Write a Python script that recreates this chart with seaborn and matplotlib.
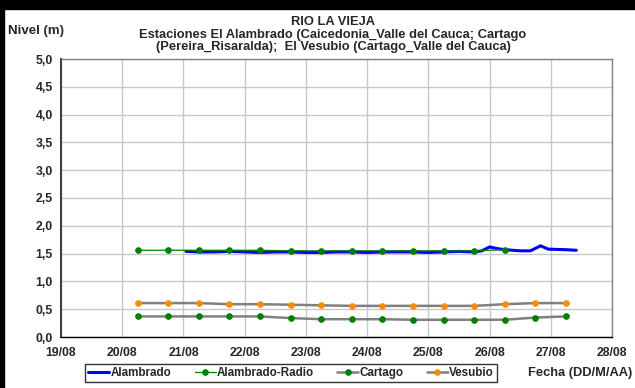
import pandas as pd
import matplotlib
matplotlib.use("Agg")
import matplotlib.pyplot as plt
import matplotlib.dates as mdates
from matplotlib.patches import Rectangle
from matplotlib.ticker import FuncFormatter, MultipleLocator
import seaborn as sns

# station readings every 12 h (Cartago, Vesubio, Alambrado-Radio)
times_12h = ["2011-08-20 06:00", "2011-08-20 18:00", "2011-08-21 06:00", "2011-08-21 18:00",
             "2011-08-22 06:00", "2011-08-22 18:00", "2011-08-23 06:00", "2011-08-23 18:00",
             "2011-08-24 06:00", "2011-08-24 18:00", "2011-08-25 06:00", "2011-08-25 18:00",
             "2011-08-26 06:00", "2011-08-26 18:00", "2011-08-27 06:00"]
cartago = [0.37, 0.37, 0.37, 0.37, 0.37, 0.34, 0.32, 0.32, 0.32, 0.31, 0.31, 0.31, 0.31, 0.35, 0.37]
vesubio = [0.61, 0.61, 0.61, 0.59, 0.59, 0.58, 0.57, 0.56, 0.56, 0.56, 0.56, 0.56, 0.59, 0.61, 0.61]
radio = [1.56, 1.56, 1.56, 1.56, 1.56, 1.55, 1.55, 1.55, 1.55, 1.55, 1.55, 1.55, 1.57]

# Alambrado automatic station
times_alambrado = ["2011-08-21 01:00", "2011-08-21 06:00", "2011-08-21 12:00", "2011-08-21 18:00",
                   "2011-08-22 00:00", "2011-08-22 06:00", "2011-08-22 12:00", "2011-08-22 18:00",
                   "2011-08-23 00:00", "2011-08-23 06:00", "2011-08-23 12:00", "2011-08-23 18:00",
                   "2011-08-24 00:00", "2011-08-24 06:00", "2011-08-24 12:00", "2011-08-24 18:00",
                   "2011-08-25 00:00", "2011-08-25 06:00", "2011-08-25 12:00", "2011-08-25 18:00",
                   "2011-08-25 21:00", "2011-08-26 00:00", "2011-08-26 03:00", "2011-08-26 06:00",
                   "2011-08-26 12:00", "2011-08-26 16:00", "2011-08-26 20:00", "2011-08-26 23:00",
                   "2011-08-27 06:00", "2011-08-27 10:00"]
alambrado = [1.54, 1.53, 1.53, 1.54, 1.53, 1.52, 1.53, 1.53, 1.52, 1.52, 1.53, 1.53,
             1.52, 1.53, 1.53, 1.53, 1.52, 1.53, 1.54, 1.53, 1.55, 1.62, 1.59, 1.57,
             1.55, 1.55, 1.64, 1.58, 1.57, 1.56]

df12 = pd.DataFrame({"fecha": pd.to_datetime(times_12h), "cartago": cartago, "vesubio": vesubio})
df_radio = pd.DataFrame({"fecha": pd.to_datetime(times_12h[:len(radio)]), "nivel": radio})
df_al = pd.DataFrame({"fecha": pd.to_datetime(times_alambrado), "nivel": alambrado})

sns.set_style("white")
plt.rcParams["font.family"] = ["Liberation Sans", "DejaVu Sans"]
plt.rcParams["font.weight"] = "bold"

fig = plt.figure(figsize=(6.35, 3.88), dpi=100)
ax = fig.add_axes([61 / 635, 1 - 337 / 388, 551 / 635, 278 / 388])

sns.lineplot(data=df_al, x="fecha", y="nivel", ax=ax, color="#0000FF", linewidth=2.2,
             label="Alambrado")
sns.lineplot(data=df_radio, x="fecha", y="nivel", ax=ax, color="#008000", linewidth=0.9,
             marker="o", markersize=4, markeredgecolor="#008000", label="Alambrado-Radio")
sns.lineplot(data=df12, x="fecha", y="cartago", ax=ax, color="#808080", linewidth=1.8,
             marker="o", markersize=4, markerfacecolor="#008000", markeredgecolor="#008000",
             label="Cartago")
sns.lineplot(data=df12, x="fecha", y="vesubio", ax=ax, color="#808080", linewidth=1.8,
             marker="o", markersize=4, markerfacecolor="#FF8C00", markeredgecolor="#FF8C00",
             label="Vesubio")

# axes
ax.set_xlim(pd.Timestamp("2011-08-19"), pd.Timestamp("2011-08-28"))
ax.set_ylim(0, 5)
ax.yaxis.set_major_locator(MultipleLocator(0.5))
ax.yaxis.set_major_formatter(FuncFormatter(lambda v, p: f"{v:.1f}".replace(".", ",")))
ax.xaxis.set_major_locator(mdates.DayLocator())
ax.xaxis.set_major_formatter(mdates.DateFormatter("%d/%m"))
ax.set_xlabel("")
ax.set_ylabel("")
ax.grid(True, color="#C8C8C8", linewidth=1)
ax.tick_params(axis="both", labelsize=8.8, length=4, width=1, color="#404040", pad=2, direction="out")
ax.tick_params(axis="x", pad=3)
for lab in ax.get_xticklabels() + ax.get_yticklabels():
    lab.set_fontweight("bold")
for side in ["top", "right"]:
    ax.spines[side].set_color("#808080")
    ax.spines[side].set_linewidth(1)
ax.spines["left"].set_color("#404040")
ax.spines["left"].set_linewidth(1.5)
ax.spines["bottom"].set_color("#000000")
ax.spines["bottom"].set_linewidth(1)

ax.get_legend().remove()
handles, labels = ax.get_legend_handles_labels()
leg = fig.legend(handles, labels, loc="center", bbox_to_anchor=(291 / 635, 1 - 373 / 388), ncol=4,
                 frameon=True, fancybox=False, edgecolor="black", fontsize=8.4, handlelength=1.8,
                 handletextpad=0.1, columnspacing=2.0, borderpad=0.25)
leg.get_frame().set_linewidth(1)
for t in leg.get_texts():
    t.set_fontweight("bold")

# titles
title_lines = ["RIO LA VIEJA",
               "Estaciones El Alambrado (Caicedonia_Valle del Cauca; Cartago",
               "(Pereira_Risaralda);  El Vesubio (Cartago_Valle del Cauca)"]
for line, ypx in zip(title_lines, [22, 35, 47]):
    fig.text(333 / 635, 1 - ypx / 388, line, ha="center", va="center", fontsize=9.3, fontweight="bold")
fig.text(8 / 635, 1 - 31 / 388, "Nivel (m)", ha="left", va="center", fontsize=9.5, fontweight="bold")
fig.text(632 / 635, 1 - 373 / 388, "Fecha (DD/M/AA)", ha="right", va="center", fontsize=9.3, fontweight="bold")

# black frame strips
fig.patches.append(Rectangle((0, 1 - 9 / 388), 1, 9 / 388, transform=fig.transFigure,
                             color="black", zorder=10))
fig.patches.append(Rectangle((0, 0), 4 / 635, 1, transform=fig.transFigure,
                             color="black", zorder=10))

fig.savefig("out.png", dpi=100)
